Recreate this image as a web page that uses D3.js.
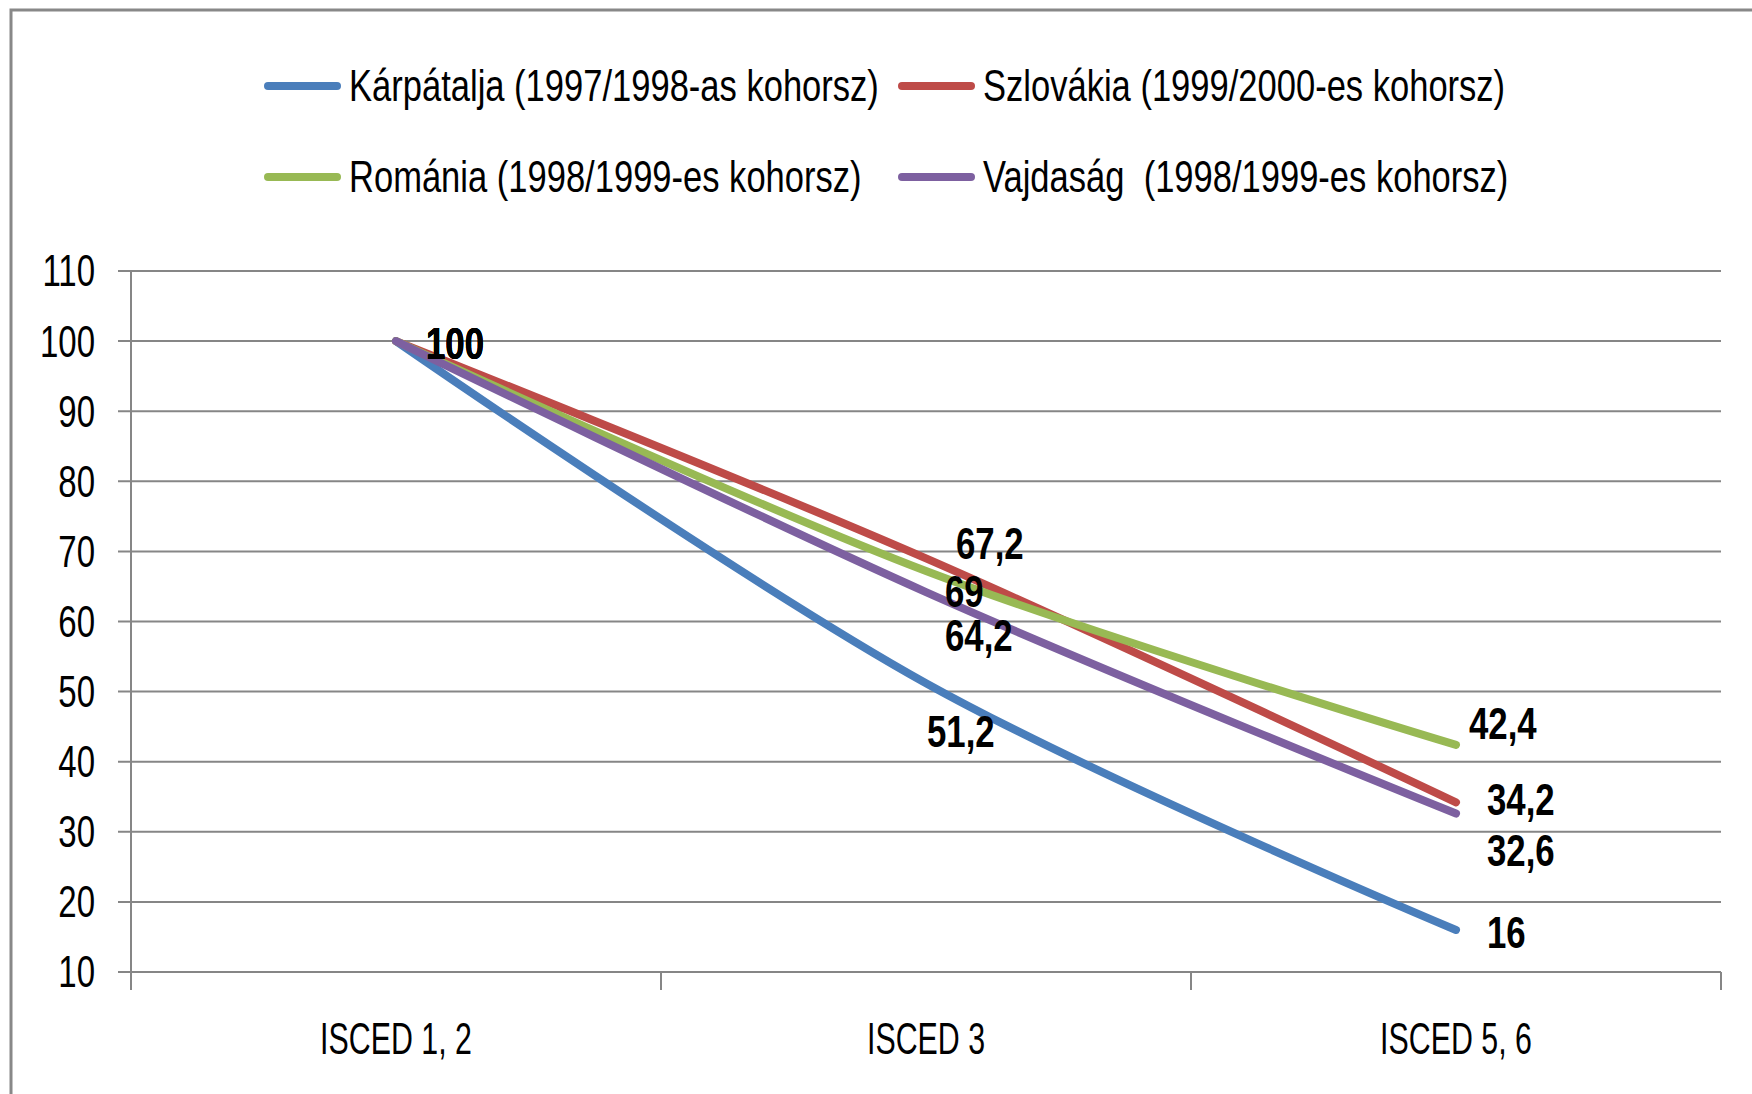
<!DOCTYPE html>
<html>
<head>
<meta charset="utf-8">
<script src="https://cdn.jsdelivr.net/npm/d3@7"></script>
<style>
  body { margin: 0; background: #fff; }
  svg { display: block; }
  text { font-family: "Liberation Sans", Arial, sans-serif; fill: #000; white-space: pre; }
</style>
</head>
<body>
<svg id="chart" width="1752" height="1094"></svg>
<script>
// data
const categories = ["ISCED 1, 2", "ISCED 3", "ISCED 5, 6"];
const seriesNames = [
    "Kárpátalja (1997/1998-as kohorsz)",
    "Szlovákia (1999/2000-es kohorsz)",
    "Románia (1998/1999-es kohorsz)",
    "Vajdaság  (1998/1999-es kohorsz)"
];
const karpatalja = [100, 51.2, 16];
const szlovakia = [100, 69, 34.2];
const romania = [100, 67.2, 42.4];
const vajdasag = [100, 64.2, 32.6];
const yTicks = [10, 20, 30, 40, 50, 60, 70, 80, 90, 100, 110];

const colors = ["#4a7ebb", "#be4b48", "#98b954", "#7d60a0"];
const allValues = [karpatalja, szlovakia, romania, vajdasag];

const svg = d3.select("#chart");
const width = +svg.attr("width");
const height = +svg.attr("height");

const plot = { left: 131, right: 1721, top: 271, bottom: 972 };
const fontSize = 44;
// the original font is a narrow one, so squeeze the text a bit
const squeeze = { tick: 0.75, cat: 0.69, bold: 0.79, legend: 0.785 };

// outer frame
svg.append("rect")
    .attr("x", 11).attr("y", 10)
    .attr("width", width).attr("height", height)
    .attr("fill", "#fff")
    .attr("stroke", "#888").attr("stroke-width", 3);

const x = d3.scalePoint().domain(categories).range([plot.left, plot.right]).padding(0.5);
const band = d3.scaleBand().domain(categories).range([plot.left, plot.right]);
const y = d3.scaleLinear().domain([10, 110]).range([plot.bottom, plot.top]);

function label(g, tx, ty, str, kind, anchor) {
    const t = g.append("text")
        .attr("transform", `translate(${tx},${ty}) scale(${squeeze[kind]},1)`)
        .attr("dy", "0.35em")
        .attr("text-anchor", anchor || "start")
        .style("font-size", fontSize + "px")
        .text(str);
    if (kind === "bold") t.style("font-weight", "bold");
    return t;
}

// gridlines + y axis ticks
const grid = svg.append("g");
grid.selectAll("line.grid")
    .data(yTicks)
    .enter().append("line")
    .attr("class", "grid")
    .attr("x1", plot.left - 13).attr("x2", plot.right)
    .attr("y1", d => y(d)).attr("y2", d => y(d))
    .attr("stroke", "#868686").attr("stroke-width", 2);

yTicks.forEach(v => label(grid, plot.left - 36, y(v), v, "tick", "end"));

// vertical axis line and category ticks
grid.append("line")
    .attr("x1", plot.left).attr("x2", plot.left)
    .attr("y1", plot.top).attr("y2", plot.bottom + 18)
    .attr("stroke", "#868686").attr("stroke-width", 2);

grid.selectAll("line.ctick")
    .data(categories)
    .enter().append("line")
    .attr("class", "ctick")
    .attr("x1", d => band(d) + band.bandwidth()).attr("x2", d => band(d) + band.bandwidth())
    .attr("y1", plot.bottom).attr("y2", plot.bottom + 18)
    .attr("stroke", "#868686").attr("stroke-width", 2);

categories.forEach(c => label(grid, x(c), plot.bottom + 67, c, "cat", "middle"));

// lines
const line = d3.line()
    .x((d, i) => x(categories[i]))
    .y(d => y(d))
    .curve(d3.curveCardinal.tension(0));

svg.append("g").selectAll("path")
    .data(allValues)
    .enter().append("path")
    .attr("d", d => line(d))
    .attr("fill", "none")
    .attr("stroke", (d, i) => colors[i])
    .attr("stroke-width", 8)
    .attr("stroke-linecap", "round")
    .attr("stroke-linejoin", "round");

// data labels, nudged like in the original
const nudges = [
    [[30, 2], [1, 48], [31, 3]],
    [[30, 2], [19, 33], [31, -3]],
    [[30, 2], [30, -27], [13, -21]],
    [[30, 2], [19, 44], [31, 37]]
];
const labels = svg.append("g");
allValues.forEach((vals, s) => {
    vals.forEach((v, i) => {
        const [dx, dy] = nudges[s][i];
        label(labels, x(categories[i]) + dx, y(v) + dy, String(v).replace(".", ","), "bold");
    });
});

// legend
const legend = svg.append("g");
const legendPos = [[265, 86], [899, 86], [265, 177], [899, 177]];
seriesNames.forEach((name, i) => {
    const [lx, ly] = legendPos[i];
    legend.append("line")
        .attr("x1", lx + 3).attr("x2", lx + 72)
        .attr("y1", ly).attr("y2", ly)
        .attr("stroke", colors[i]).attr("stroke-width", 8)
        .attr("stroke-linecap", "round");
    label(legend, lx + 84, ly, name, "legend");
});
</script>
</body>
</html>
